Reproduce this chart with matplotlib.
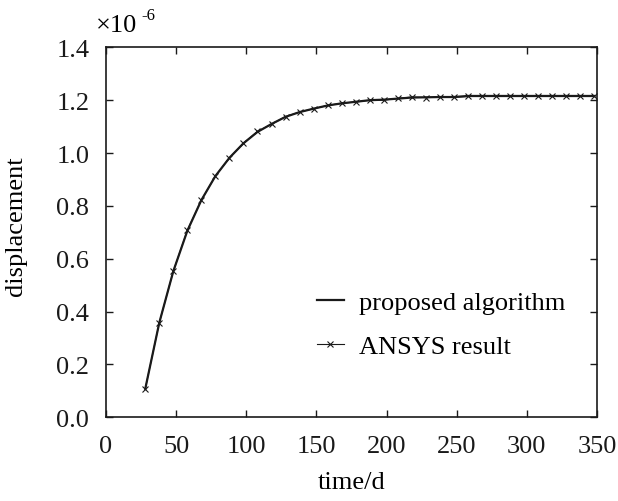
import matplotlib.pyplot as plt

plt.rcParams['font.family'] = ['Liberation Serif', 'DejaVu Serif']
plt.rcParams['font.size'] = 19

# data (displacement in units of 1e-6)
days = [28, 38, 48, 58, 68, 78, 88, 98, 108, 118, 128, 138, 148, 158, 168,
        178, 188, 198, 208, 218, 228, 238, 248, 258, 268, 278, 288, 298,
        308, 318, 328, 338, 348]
proposed = [0.108, 0.358, 0.553, 0.706, 0.822, 0.913, 0.982, 1.037, 1.080,
            1.110, 1.137, 1.155, 1.168, 1.180, 1.188, 1.194, 1.200, 1.202,
            1.206, 1.210, 1.211, 1.212, 1.212, 1.216, 1.216, 1.216, 1.216,
            1.216, 1.216, 1.216, 1.216, 1.216, 1.216]
ansys = [0.108, 0.358, 0.553, 0.708, 0.822, 0.913, 0.982, 1.037, 1.082,
         1.109, 1.138, 1.155, 1.168, 1.180, 1.189, 1.193, 1.200, 1.200,
         1.207, 1.212, 1.210, 1.211, 1.211, 1.214, 1.214, 1.214, 1.214,
         1.214, 1.214, 1.214, 1.214, 1.214, 1.214]

fig = plt.figure(figsize=(6.18, 5.02), dpi=100)
ax = fig.add_axes([0.1715, 0.1667, 0.7945, 0.737])

ax.plot(days, proposed, color='#1a1a1a', lw=1.6, label='proposed algorithm')
ax.plot(days, ansys, color='#1a1a1a', lw=0.8, marker='x', ms=5, mew=0.8,
        label='ANSYS result')

ax.set_xlim(0, 350)
ax.set_ylim(0, 1.4)
ax.set_xticks(range(0, 351, 50))
ax.set_yticks([0.0, 0.2, 0.4, 0.6, 0.8, 1.0, 1.2, 1.4])
ax.set_yticklabels(['%.1f' % v for v in ax.get_yticks()])
ax.tick_params(direction='in', top=True, right=True, length=5, width=1,
               labelsize=19, colors='#1a1a1a')
ax.tick_params(axis='x', pad=13)
ax.tick_params(axis='y', pad=12)
for s in ax.spines.values():
    s.set_linewidth(1.2)
    s.set_color('#1a1a1a')

ax.set_xlabel('time/d', fontsize=19, labelpad=10)
ax.set_ylabel('displacement', fontsize=19)
ax.yaxis.set_label_coords(-0.16, 0.52)

ax.text(-0.02, 1.03, '\u00d710', transform=ax.transAxes, fontsize=19,
        ha='left', va='bottom')
ax.text(0.072, 1.065, '-6', transform=ax.transAxes, fontsize=12,
        ha='left', va='bottom')

ax.legend(loc='lower right', bbox_to_anchor=(0.985, 0.095), frameon=False,
          handlelength=1.0, handletextpad=0.6, labelspacing=0.8, fontsize=19)

fig.savefig('out.png', dpi=100)
